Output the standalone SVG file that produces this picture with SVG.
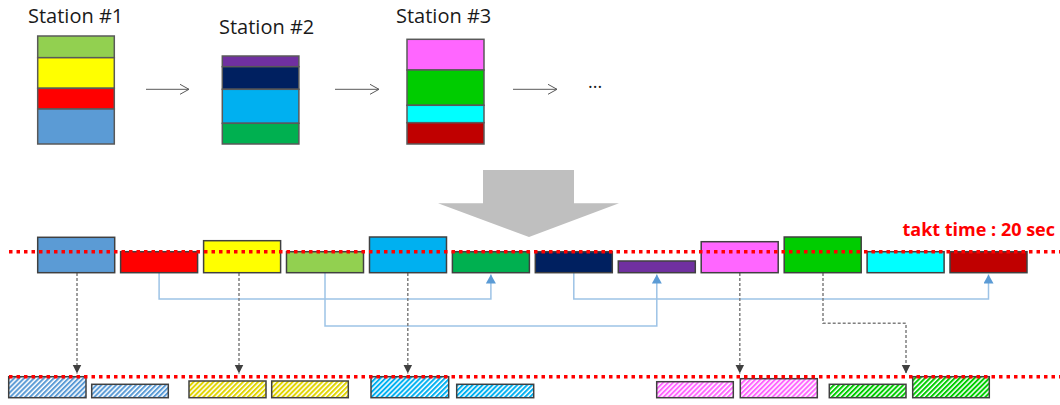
<svg xmlns="http://www.w3.org/2000/svg" width="1060" height="405" viewBox="0 0 1060 405">
<style>
.lbl{font-family:"Open Sans","Noto Sans","Liberation Sans",sans-serif;font-size:20px;fill:#1a1a1a}
.takt{font-family:"Open Sans","Noto Sans","Liberation Sans",sans-serif;font-size:18px;font-weight:bold;fill:#ff0000}
.seg{stroke:#595959;stroke-width:1.5}
.box{stroke:#404040;stroke-width:1.5}
.takt-line{stroke:#ff0000;stroke-width:3.5;stroke-dasharray:3.5 4;fill:none}
.flow{stroke:#595959;stroke-width:1;fill:none;marker-end:url(#ah)}
.blue{stroke:#9dc3e6;stroke-width:1.5;fill:none;marker-end:url(#bh)}
.gray{stroke:#7f7f7f;stroke-width:1.5;stroke-dasharray:3 2;fill:none;marker-end:url(#gh)}
</style>
<defs>
<marker id="ah" markerUnits="userSpaceOnUse" markerWidth="12" markerHeight="12" refX="10" refY="6" orient="auto"><path d="M1,1 L10,6 L1,11" fill="none" stroke="#595959" stroke-width="1"/></marker>
<marker id="bh" markerUnits="userSpaceOnUse" markerWidth="10" markerHeight="10" refX="9" refY="5" orient="auto"><path d="M0,0 L9,5 L0,10 Z" fill="#5b9bd5"/></marker>
<marker id="gh" markerUnits="userSpaceOnUse" markerWidth="10" markerHeight="10" refX="9" refY="5" orient="auto"><path d="M0,0.5 L9,5 L0,9.5 Z" fill="#404040"/></marker>
<pattern id="hBlue" patternUnits="userSpaceOnUse" width="3.5" height="3.5" patternTransform="rotate(45)"><rect width="3.5" height="3.5" fill="#fff"/><rect width="2" height="3.5" fill="#5b9bd5"/></pattern>
<pattern id="hYellow" patternUnits="userSpaceOnUse" width="3.5" height="3.5" patternTransform="rotate(45)"><rect width="3.5" height="3.5" fill="#fff"/><rect width="2" height="3.5" fill="#e0d400"/></pattern>
<pattern id="hSky" patternUnits="userSpaceOnUse" width="3.5" height="3.5" patternTransform="rotate(45)"><rect width="3.5" height="3.5" fill="#fff"/><rect width="2" height="3.5" fill="#00b0f0"/></pattern>
<pattern id="hPink" patternUnits="userSpaceOnUse" width="3.5" height="3.5" patternTransform="rotate(45)"><rect width="3.5" height="3.5" fill="#fff"/><rect width="2" height="3.5" fill="#ff66ff"/></pattern>
<pattern id="hGreen" patternUnits="userSpaceOnUse" width="3.5" height="3.5" patternTransform="rotate(45)"><rect width="3.5" height="3.5" fill="#fff"/><rect width="2" height="3.5" fill="#00cc00"/></pattern>
</defs>

<!-- Stations -->
<g id="station1">
<text class="lbl" x="28" y="23">Station #1</text>
<rect class="seg" x="37.7" y="36" width="76.6" height="21.7" fill="#92d050"/>
<rect class="seg" x="37.7" y="57.7" width="76.6" height="30.6" fill="#ffff00"/>
<rect class="seg" x="37.7" y="88.3" width="76.6" height="20.7" fill="#ff0000"/>
<rect class="seg" x="37.7" y="109" width="76.6" height="35" fill="#5b9bd5"/>
</g>
<g id="station2">
<text class="lbl" x="219" y="33.5">Station #2</text>
<rect class="seg" x="222.3" y="56" width="76.6" height="10.7" fill="#7030a0"/>
<rect class="seg" x="222.3" y="66.7" width="76.6" height="22.6" fill="#002060"/>
<rect class="seg" x="222.3" y="89.3" width="76.6" height="34" fill="#00b0f0"/>
<rect class="seg" x="222.3" y="123.3" width="76.6" height="20.7" fill="#00b050"/>
</g>
<g id="station3">
<text class="lbl" x="396" y="23.3">Station #3</text>
<rect class="seg" x="407" y="39.3" width="77" height="30.7" fill="#ff66ff"/>
<rect class="seg" x="407" y="70" width="77" height="35.3" fill="#00cc00"/>
<rect class="seg" x="407" y="105.3" width="77" height="17.4" fill="#00ffff"/>
<rect class="seg" x="407" y="122.7" width="77" height="21.3" fill="#c00000"/>
</g>
<g id="ellipsis"><text class="lbl" x="588" y="88" style="font-size:18px">...</text></g>

<g id="flow-arrows">
<line class="flow" x1="146" y1="89.3" x2="189" y2="89.3"/>
<line class="flow" x1="335" y1="89.3" x2="379" y2="89.3"/>
<line class="flow" x1="513" y1="89.3" x2="557" y2="89.3"/>
</g>

<g id="big-arrow"><path d="M483,170 H574 V203.3 H619 L529,237 L438,203.3 H483 Z" fill="#bfbfbf"/></g>

<!-- Connectors -->
<g id="connectors">
<path class="blue" d="M159.1,273 V299 H490.9 V274.5"/>
<path class="blue" d="M325,273 V326 H656.8 V274.5"/>
<path class="blue" d="M573.8,273 V299 H988.5 V274.5"/>
<path class="gray" d="M77,273 V373.5"/>
<path class="gray" d="M239,273 V373.5"/>
<path class="gray" d="M407.8,273 V373.5"/>
<path class="gray" d="M739.8,273 V373.5"/>
<path class="gray" d="M823,273 V323.3 H906 V373.5"/>
</g>

<!-- Middle row tasks -->
<g id="task-blue"><rect class="box" x="37.7" y="237.3" width="77" height="35.4" fill="#5b9bd5"/></g>
<g id="task-red"><rect class="box" x="120.6" y="251.7" width="77" height="21" fill="#ff0000"/></g>
<g id="task-yellow"><rect class="box" x="203.6" y="240.7" width="77" height="32" fill="#ffff00"/></g>
<g id="task-lightgreen"><rect class="box" x="286.5" y="251.7" width="77" height="21" fill="#92d050"/></g>
<g id="task-skyblue"><rect class="box" x="369.5" y="237" width="77" height="35.7" fill="#00b0f0"/></g>
<g id="task-green"><rect class="box" x="452.4" y="251.7" width="77" height="21" fill="#00b050"/></g>
<g id="task-navy"><rect class="box" x="535.3" y="251.7" width="77" height="21" fill="#002060"/></g>
<g id="task-purple"><rect class="box" x="618.3" y="261" width="77" height="11.7" fill="#7030a0"/></g>
<g id="task-pink"><rect class="box" x="701.2" y="241.7" width="77" height="31" fill="#ff66ff"/></g>
<g id="task-brightgreen"><rect class="box" x="784.2" y="237" width="77" height="35.7" fill="#00cc00"/></g>
<g id="task-cyan"><rect class="box" x="867.1" y="251.7" width="77" height="21" fill="#00ffff"/></g>
<g id="task-darkred"><rect class="box" x="950" y="251.7" width="77" height="21" fill="#c00000"/></g>

<!-- Bottom row hatched -->
<g id="out-blue-1"><rect class="box" x="8.7" y="376.7" width="77.3" height="21" fill="url(#hBlue)"/></g>
<g id="out-blue-2"><rect class="box" x="91.7" y="384.3" width="76.6" height="13.4" fill="url(#hBlue)"/></g>
<g id="out-yellow-1"><rect class="box" x="189" y="381" width="77" height="16.7" fill="url(#hYellow)"/></g>
<g id="out-yellow-2"><rect class="box" x="271.7" y="381" width="76.6" height="16.7" fill="url(#hYellow)"/></g>
<g id="out-sky-1"><rect class="box" x="371" y="376.7" width="77.7" height="21" fill="url(#hSky)"/></g>
<g id="out-sky-2"><rect class="box" x="456.7" y="384.3" width="77" height="13.4" fill="url(#hSky)"/></g>
<g id="out-pink-1"><rect class="box" x="656.7" y="381.7" width="76.6" height="16" fill="url(#hPink)"/></g>
<g id="out-pink-2"><rect class="box" x="740.3" y="378.7" width="77" height="19" fill="url(#hPink)"/></g>
<g id="out-green-1"><rect class="box" x="829.3" y="384.3" width="76.7" height="13.4" fill="url(#hGreen)"/></g>
<g id="out-green-2"><rect class="box" x="912.7" y="376.7" width="76.6" height="21" fill="url(#hGreen)"/></g>

<!-- takt lines (drawn on top) -->
<g id="takt">
<line class="takt-line" x1="9" y1="251.7" x2="1060" y2="251.7"/>
<text class="takt" x="1055" y="236" text-anchor="end">takt time : 20 sec</text>
</g>
<g id="takt-bottom"><line class="takt-line" x1="9" y1="376.7" x2="1060" y2="376.7"/></g>
</svg>
